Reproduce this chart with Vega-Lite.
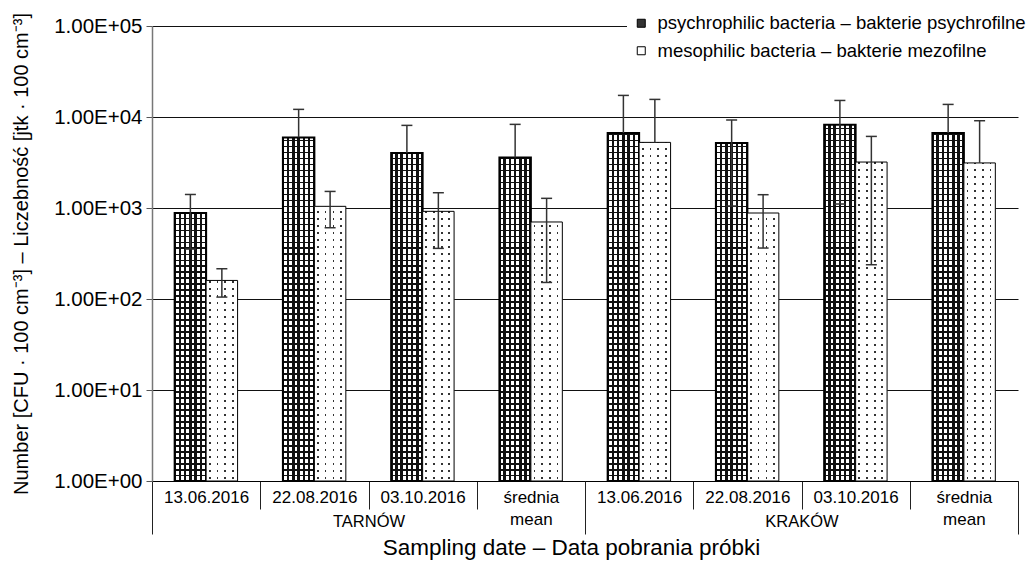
{
"$schema": "https://vega.github.io/schema/vega-lite/v6.json",
"width": 866, "height": 455,
"autosize": {"type": "none"},
"padding": {"left": 152, "top": 26, "right": 15, "bottom": 80},
"config": {"font": "Liberation Sans", "view": {"stroke": null}, "axis": {"labelColor": "#000", "titleColor": "#000", "titleFontWeight": "normal"}},
"params": [
{"name": "psyH", "expr": "[{offset:0,color:'#111'},{offset:.0033,color:'#111'},{offset:.0033,color:'#0000'},{offset:.0132,color:'#0000'},{offset:.0132,color:'#111'},{offset:.0165,color:'#111'},{offset:.0165,color:'#0000'},{offset:.0263,color:'#0000'},{offset:.0263,color:'#111'},{offset:.0296,color:'#111'},{offset:.0296,color:'#0000'},{offset:.0395,color:'#0000'},{offset:.0395,color:'#111'},{offset:.0428,color:'#111'},{offset:.0428,color:'#0000'},{offset:.0526,color:'#0000'},{offset:.0526,color:'#111'},{offset:.0559,color:'#111'},{offset:.0559,color:'#0000'},{offset:.0658,color:'#0000'},{offset:.0658,color:'#111'},{offset:.0691,color:'#111'},{offset:.0691,color:'#0000'},{offset:.0789,color:'#0000'},{offset:.0789,color:'#111'},{offset:.0822,color:'#111'},{offset:.0822,color:'#0000'},{offset:.0921,color:'#0000'},{offset:.0921,color:'#111'},{offset:.0954,color:'#111'},{offset:.0954,color:'#0000'},{offset:.1053,color:'#0000'},{offset:.1053,color:'#111'},{offset:.1086,color:'#111'},{offset:.1086,color:'#0000'},{offset:.1184,color:'#0000'},{offset:.1184,color:'#111'},{offset:.1217,color:'#111'},{offset:.1217,color:'#0000'},{offset:.1316,color:'#0000'},{offset:.1316,color:'#111'},{offset:.1349,color:'#111'},{offset:.1349,color:'#0000'},{offset:.1447,color:'#0000'},{offset:.1447,color:'#111'},{offset:.148,color:'#111'},{offset:.148,color:'#0000'},{offset:.1579,color:'#0000'},{offset:.1579,color:'#111'},{offset:.1612,color:'#111'},{offset:.1612,color:'#0000'},{offset:.1711,color:'#0000'},{offset:.1711,color:'#111'},{offset:.1744,color:'#111'},{offset:.1744,color:'#0000'},{offset:.1842,color:'#0000'},{offset:.1842,color:'#111'},{offset:.1875,color:'#111'},{offset:.1875,color:'#0000'},{offset:.1974,color:'#0000'},{offset:.1974,color:'#111'},{offset:.2007,color:'#111'},{offset:.2007,color:'#0000'},{offset:.2105,color:'#0000'},{offset:.2105,color:'#111'},{offset:.2138,color:'#111'},{offset:.2138,color:'#0000'},{offset:.2237,color:'#0000'},{offset:.2237,color:'#111'},{offset:.227,color:'#111'},{offset:.227,color:'#0000'},{offset:.2368,color:'#0000'},{offset:.2368,color:'#111'},{offset:.2401,color:'#111'},{offset:.2401,color:'#0000'},{offset:.25,color:'#0000'},{offset:.25,color:'#111'},{offset:.2533,color:'#111'},{offset:.2533,color:'#0000'},{offset:.2632,color:'#0000'},{offset:.2632,color:'#111'},{offset:.2665,color:'#111'},{offset:.2665,color:'#0000'},{offset:.2763,color:'#0000'},{offset:.2763,color:'#111'},{offset:.2796,color:'#111'},{offset:.2796,color:'#0000'},{offset:.2895,color:'#0000'},{offset:.2895,color:'#111'},{offset:.2928,color:'#111'},{offset:.2928,color:'#0000'},{offset:.3026,color:'#0000'},{offset:.3026,color:'#111'},{offset:.3059,color:'#111'},{offset:.3059,color:'#0000'},{offset:.3158,color:'#0000'},{offset:.3158,color:'#111'},{offset:.3191,color:'#111'},{offset:.3191,color:'#0000'},{offset:.3289,color:'#0000'},{offset:.3289,color:'#111'},{offset:.3322,color:'#111'},{offset:.3322,color:'#0000'},{offset:.3421,color:'#0000'},{offset:.3421,color:'#111'},{offset:.3454,color:'#111'},{offset:.3454,color:'#0000'},{offset:.3553,color:'#0000'},{offset:.3553,color:'#111'},{offset:.3586,color:'#111'},{offset:.3586,color:'#0000'},{offset:.3684,color:'#0000'},{offset:.3684,color:'#111'},{offset:.3717,color:'#111'},{offset:.3717,color:'#0000'},{offset:.3816,color:'#0000'},{offset:.3816,color:'#111'},{offset:.3849,color:'#111'},{offset:.3849,color:'#0000'},{offset:.3947,color:'#0000'},{offset:.3947,color:'#111'},{offset:.398,color:'#111'},{offset:.398,color:'#0000'},{offset:.4079,color:'#0000'},{offset:.4079,color:'#111'},{offset:.4112,color:'#111'},{offset:.4112,color:'#0000'},{offset:.4211,color:'#0000'},{offset:.4211,color:'#111'},{offset:.4244,color:'#111'},{offset:.4244,color:'#0000'},{offset:.4342,color:'#0000'},{offset:.4342,color:'#111'},{offset:.4375,color:'#111'},{offset:.4375,color:'#0000'},{offset:.4474,color:'#0000'},{offset:.4474,color:'#111'},{offset:.4507,color:'#111'},{offset:.4507,color:'#0000'},{offset:.4605,color:'#0000'},{offset:.4605,color:'#111'},{offset:.4638,color:'#111'},{offset:.4638,color:'#0000'},{offset:.4737,color:'#0000'},{offset:.4737,color:'#111'},{offset:.477,color:'#111'},{offset:.477,color:'#0000'},{offset:.4868,color:'#0000'},{offset:.4868,color:'#111'},{offset:.4901,color:'#111'},{offset:.4901,color:'#0000'},{offset:.5,color:'#0000'},{offset:.5,color:'#111'},{offset:.5033,color:'#111'},{offset:.5033,color:'#0000'},{offset:.5132,color:'#0000'},{offset:.5132,color:'#111'},{offset:.5165,color:'#111'},{offset:.5165,color:'#0000'},{offset:.5263,color:'#0000'},{offset:.5263,color:'#111'},{offset:.5296,color:'#111'},{offset:.5296,color:'#0000'},{offset:.5395,color:'#0000'},{offset:.5395,color:'#111'},{offset:.5428,color:'#111'},{offset:.5428,color:'#0000'},{offset:.5526,color:'#0000'},{offset:.5526,color:'#111'},{offset:.5559,color:'#111'},{offset:.5559,color:'#0000'},{offset:.5658,color:'#0000'},{offset:.5658,color:'#111'},{offset:.5691,color:'#111'},{offset:.5691,color:'#0000'},{offset:.5789,color:'#0000'},{offset:.5789,color:'#111'},{offset:.5822,color:'#111'},{offset:.5822,color:'#0000'},{offset:.5921,color:'#0000'},{offset:.5921,color:'#111'},{offset:.5954,color:'#111'},{offset:.5954,color:'#0000'},{offset:.6053,color:'#0000'},{offset:.6053,color:'#111'},{offset:.6086,color:'#111'},{offset:.6086,color:'#0000'},{offset:.6184,color:'#0000'},{offset:.6184,color:'#111'},{offset:.6217,color:'#111'},{offset:.6217,color:'#0000'},{offset:.6316,color:'#0000'},{offset:.6316,color:'#111'},{offset:.6349,color:'#111'},{offset:.6349,color:'#0000'},{offset:.6447,color:'#0000'},{offset:.6447,color:'#111'},{offset:.648,color:'#111'},{offset:.648,color:'#0000'},{offset:.6579,color:'#0000'},{offset:.6579,color:'#111'},{offset:.6612,color:'#111'},{offset:.6612,color:'#0000'},{offset:.6711,color:'#0000'},{offset:.6711,color:'#111'},{offset:.6744,color:'#111'},{offset:.6744,color:'#0000'},{offset:.6842,color:'#0000'},{offset:.6842,color:'#111'},{offset:.6875,color:'#111'},{offset:.6875,color:'#0000'},{offset:.6974,color:'#0000'},{offset:.6974,color:'#111'},{offset:.7007,color:'#111'},{offset:.7007,color:'#0000'},{offset:.7105,color:'#0000'},{offset:.7105,color:'#111'},{offset:.7138,color:'#111'},{offset:.7138,color:'#0000'},{offset:.7237,color:'#0000'},{offset:.7237,color:'#111'},{offset:.727,color:'#111'},{offset:.727,color:'#0000'},{offset:.7368,color:'#0000'},{offset:.7368,color:'#111'},{offset:.7401,color:'#111'},{offset:.7401,color:'#0000'},{offset:.75,color:'#0000'},{offset:.75,color:'#111'},{offset:.7533,color:'#111'},{offset:.7533,color:'#0000'},{offset:.7632,color:'#0000'},{offset:.7632,color:'#111'},{offset:.7665,color:'#111'},{offset:.7665,color:'#0000'},{offset:.7763,color:'#0000'},{offset:.7763,color:'#111'},{offset:.7796,color:'#111'},{offset:.7796,color:'#0000'},{offset:.7895,color:'#0000'},{offset:.7895,color:'#111'},{offset:.7928,color:'#111'},{offset:.7928,color:'#0000'},{offset:.8026,color:'#0000'},{offset:.8026,color:'#111'},{offset:.8059,color:'#111'},{offset:.8059,color:'#0000'},{offset:.8158,color:'#0000'},{offset:.8158,color:'#111'},{offset:.8191,color:'#111'},{offset:.8191,color:'#0000'},{offset:.8289,color:'#0000'},{offset:.8289,color:'#111'},{offset:.8322,color:'#111'},{offset:.8322,color:'#0000'},{offset:.8421,color:'#0000'},{offset:.8421,color:'#111'},{offset:.8454,color:'#111'},{offset:.8454,color:'#0000'},{offset:.8553,color:'#0000'},{offset:.8553,color:'#111'},{offset:.8586,color:'#111'},{offset:.8586,color:'#0000'},{offset:.8684,color:'#0000'},{offset:.8684,color:'#111'},{offset:.8717,color:'#111'},{offset:.8717,color:'#0000'},{offset:.8816,color:'#0000'},{offset:.8816,color:'#111'},{offset:.8849,color:'#111'},{offset:.8849,color:'#0000'},{offset:.8947,color:'#0000'},{offset:.8947,color:'#111'},{offset:.898,color:'#111'},{offset:.898,color:'#0000'},{offset:.9079,color:'#0000'},{offset:.9079,color:'#111'},{offset:.9112,color:'#111'},{offset:.9112,color:'#0000'},{offset:.9211,color:'#0000'},{offset:.9211,color:'#111'},{offset:.9244,color:'#111'},{offset:.9244,color:'#0000'},{offset:.9342,color:'#0000'},{offset:.9342,color:'#111'},{offset:.9375,color:'#111'},{offset:.9375,color:'#0000'},{offset:.9474,color:'#0000'},{offset:.9474,color:'#111'},{offset:.9507,color:'#111'},{offset:.9507,color:'#0000'},{offset:.9605,color:'#0000'},{offset:.9605,color:'#111'},{offset:.9638,color:'#111'},{offset:.9638,color:'#0000'},{offset:.9737,color:'#0000'},{offset:.9737,color:'#111'},{offset:.977,color:'#111'},{offset:.977,color:'#0000'},{offset:.9868,color:'#0000'},{offset:.9868,color:'#111'},{offset:.9901,color:'#111'},{offset:.9901,color:'#0000'},{offset:1,color:'#0000'}]"},
{"name": "mesH", "expr": "[{offset:0,color:'#fff'},{offset:.006,color:'#fff'},{offset:.006,color:'#0000'},{offset:.01,color:'#0000'},{offset:.01,color:'#fff'},{offset:.0214,color:'#fff'},{offset:.0214,color:'#0000'},{offset:.0254,color:'#0000'},{offset:.0254,color:'#fff'},{offset:.0368,color:'#fff'},{offset:.0368,color:'#0000'},{offset:.0408,color:'#0000'},{offset:.0408,color:'#fff'},{offset:.0522,color:'#fff'},{offset:.0522,color:'#0000'},{offset:.0562,color:'#0000'},{offset:.0562,color:'#fff'},{offset:.0675,color:'#fff'},{offset:.0675,color:'#0000'},{offset:.0715,color:'#0000'},{offset:.0715,color:'#fff'},{offset:.0829,color:'#fff'},{offset:.0829,color:'#0000'},{offset:.0869,color:'#0000'},{offset:.0869,color:'#fff'},{offset:.0983,color:'#fff'},{offset:.0983,color:'#0000'},{offset:.1023,color:'#0000'},{offset:.1023,color:'#fff'},{offset:.1137,color:'#fff'},{offset:.1137,color:'#0000'},{offset:.1177,color:'#0000'},{offset:.1177,color:'#fff'},{offset:.1291,color:'#fff'},{offset:.1291,color:'#0000'},{offset:.1331,color:'#0000'},{offset:.1331,color:'#fff'},{offset:.1445,color:'#fff'},{offset:.1445,color:'#0000'},{offset:.1485,color:'#0000'},{offset:.1485,color:'#fff'},{offset:.1598,color:'#fff'},{offset:.1598,color:'#0000'},{offset:.1638,color:'#0000'},{offset:.1638,color:'#fff'},{offset:.1752,color:'#fff'},{offset:.1752,color:'#0000'},{offset:.1792,color:'#0000'},{offset:.1792,color:'#fff'},{offset:.1906,color:'#fff'},{offset:.1906,color:'#0000'},{offset:.1946,color:'#0000'},{offset:.1946,color:'#fff'},{offset:.206,color:'#fff'},{offset:.206,color:'#0000'},{offset:.21,color:'#0000'},{offset:.21,color:'#fff'},{offset:.2214,color:'#fff'},{offset:.2214,color:'#0000'},{offset:.2254,color:'#0000'},{offset:.2254,color:'#fff'},{offset:.2368,color:'#fff'},{offset:.2368,color:'#0000'},{offset:.2408,color:'#0000'},{offset:.2408,color:'#fff'},{offset:.2522,color:'#fff'},{offset:.2522,color:'#0000'},{offset:.2562,color:'#0000'},{offset:.2562,color:'#fff'},{offset:.2675,color:'#fff'},{offset:.2675,color:'#0000'},{offset:.2715,color:'#0000'},{offset:.2715,color:'#fff'},{offset:.2829,color:'#fff'},{offset:.2829,color:'#0000'},{offset:.2869,color:'#0000'},{offset:.2869,color:'#fff'},{offset:.2983,color:'#fff'},{offset:.2983,color:'#0000'},{offset:.3023,color:'#0000'},{offset:.3023,color:'#fff'},{offset:.3137,color:'#fff'},{offset:.3137,color:'#0000'},{offset:.3177,color:'#0000'},{offset:.3177,color:'#fff'},{offset:.3291,color:'#fff'},{offset:.3291,color:'#0000'},{offset:.3331,color:'#0000'},{offset:.3331,color:'#fff'},{offset:.3445,color:'#fff'},{offset:.3445,color:'#0000'},{offset:.3485,color:'#0000'},{offset:.3485,color:'#fff'},{offset:.3598,color:'#fff'},{offset:.3598,color:'#0000'},{offset:.3638,color:'#0000'},{offset:.3638,color:'#fff'},{offset:.3752,color:'#fff'},{offset:.3752,color:'#0000'},{offset:.3792,color:'#0000'},{offset:.3792,color:'#fff'},{offset:.3906,color:'#fff'},{offset:.3906,color:'#0000'},{offset:.3946,color:'#0000'},{offset:.3946,color:'#fff'},{offset:.406,color:'#fff'},{offset:.406,color:'#0000'},{offset:.41,color:'#0000'},{offset:.41,color:'#fff'},{offset:.4214,color:'#fff'},{offset:.4214,color:'#0000'},{offset:.4254,color:'#0000'},{offset:.4254,color:'#fff'},{offset:.4368,color:'#fff'},{offset:.4368,color:'#0000'},{offset:.4408,color:'#0000'},{offset:.4408,color:'#fff'},{offset:.4522,color:'#fff'},{offset:.4522,color:'#0000'},{offset:.4562,color:'#0000'},{offset:.4562,color:'#fff'},{offset:.4675,color:'#fff'},{offset:.4675,color:'#0000'},{offset:.4715,color:'#0000'},{offset:.4715,color:'#fff'},{offset:.4829,color:'#fff'},{offset:.4829,color:'#0000'},{offset:.4869,color:'#0000'},{offset:.4869,color:'#fff'},{offset:.4983,color:'#fff'},{offset:.4983,color:'#0000'},{offset:.5023,color:'#0000'},{offset:.5023,color:'#fff'},{offset:.5137,color:'#fff'},{offset:.5137,color:'#0000'},{offset:.5177,color:'#0000'},{offset:.5177,color:'#fff'},{offset:.5291,color:'#fff'},{offset:.5291,color:'#0000'},{offset:.5331,color:'#0000'},{offset:.5331,color:'#fff'},{offset:.5445,color:'#fff'},{offset:.5445,color:'#0000'},{offset:.5485,color:'#0000'},{offset:.5485,color:'#fff'},{offset:.5598,color:'#fff'},{offset:.5598,color:'#0000'},{offset:.5638,color:'#0000'},{offset:.5638,color:'#fff'},{offset:.5752,color:'#fff'},{offset:.5752,color:'#0000'},{offset:.5792,color:'#0000'},{offset:.5792,color:'#fff'},{offset:.5906,color:'#fff'},{offset:.5906,color:'#0000'},{offset:.5946,color:'#0000'},{offset:.5946,color:'#fff'},{offset:.606,color:'#fff'},{offset:.606,color:'#0000'},{offset:.61,color:'#0000'},{offset:.61,color:'#fff'},{offset:.6214,color:'#fff'},{offset:.6214,color:'#0000'},{offset:.6254,color:'#0000'},{offset:.6254,color:'#fff'},{offset:.6368,color:'#fff'},{offset:.6368,color:'#0000'},{offset:.6408,color:'#0000'},{offset:.6408,color:'#fff'},{offset:.6522,color:'#fff'},{offset:.6522,color:'#0000'},{offset:.6562,color:'#0000'},{offset:.6562,color:'#fff'},{offset:.6675,color:'#fff'},{offset:.6675,color:'#0000'},{offset:.6715,color:'#0000'},{offset:.6715,color:'#fff'},{offset:.6829,color:'#fff'},{offset:.6829,color:'#0000'},{offset:.6869,color:'#0000'},{offset:.6869,color:'#fff'},{offset:.6983,color:'#fff'},{offset:.6983,color:'#0000'},{offset:.7023,color:'#0000'},{offset:.7023,color:'#fff'},{offset:.7137,color:'#fff'},{offset:.7137,color:'#0000'},{offset:.7177,color:'#0000'},{offset:.7177,color:'#fff'},{offset:.7291,color:'#fff'},{offset:.7291,color:'#0000'},{offset:.7331,color:'#0000'},{offset:.7331,color:'#fff'},{offset:.7445,color:'#fff'},{offset:.7445,color:'#0000'},{offset:.7485,color:'#0000'},{offset:.7485,color:'#fff'},{offset:.7598,color:'#fff'},{offset:.7598,color:'#0000'},{offset:.7638,color:'#0000'},{offset:.7638,color:'#fff'},{offset:.7752,color:'#fff'},{offset:.7752,color:'#0000'},{offset:.7792,color:'#0000'},{offset:.7792,color:'#fff'},{offset:.7906,color:'#fff'},{offset:.7906,color:'#0000'},{offset:.7946,color:'#0000'},{offset:.7946,color:'#fff'},{offset:.806,color:'#fff'},{offset:.806,color:'#0000'},{offset:.81,color:'#0000'},{offset:.81,color:'#fff'},{offset:.8214,color:'#fff'},{offset:.8214,color:'#0000'},{offset:.8254,color:'#0000'},{offset:.8254,color:'#fff'},{offset:.8368,color:'#fff'},{offset:.8368,color:'#0000'},{offset:.8408,color:'#0000'},{offset:.8408,color:'#fff'},{offset:.8522,color:'#fff'},{offset:.8522,color:'#0000'},{offset:.8562,color:'#0000'},{offset:.8562,color:'#fff'},{offset:.8675,color:'#fff'},{offset:.8675,color:'#0000'},{offset:.8715,color:'#0000'},{offset:.8715,color:'#fff'},{offset:.8829,color:'#fff'},{offset:.8829,color:'#0000'},{offset:.8869,color:'#0000'},{offset:.8869,color:'#fff'},{offset:.8983,color:'#fff'},{offset:.8983,color:'#0000'},{offset:.9023,color:'#0000'},{offset:.9023,color:'#fff'},{offset:.9137,color:'#fff'},{offset:.9137,color:'#0000'},{offset:.9177,color:'#0000'},{offset:.9177,color:'#fff'},{offset:.9291,color:'#fff'},{offset:.9291,color:'#0000'},{offset:.9331,color:'#0000'},{offset:.9331,color:'#fff'},{offset:.9445,color:'#fff'},{offset:.9445,color:'#0000'},{offset:.9485,color:'#0000'},{offset:.9485,color:'#fff'},{offset:.9598,color:'#fff'},{offset:.9598,color:'#0000'},{offset:.9638,color:'#0000'},{offset:.9638,color:'#fff'},{offset:.9752,color:'#fff'},{offset:.9752,color:'#0000'},{offset:.9792,color:'#0000'},{offset:.9792,color:'#fff'},{offset:.9906,color:'#fff'},{offset:.9906,color:'#0000'},{offset:.9946,color:'#0000'},{offset:.9946,color:'#fff'},{offset:1,color:'#fff'}]"}
],
"layer": [
{
"data": {"values": [
{"site": "TARNÓW", "date": "13.06.2016", "cat": "T 13.06.2016", "series": "psychrophilic bacteria – bakterie psychrofilne", "value": 881, "hi": 1408, "lo": 354},
{"site": "TARNÓW", "date": "13.06.2016", "cat": "T 13.06.2016", "series": "mesophilic bacteria – bakterie mezofilne", "value": 160, "hi": 215, "lo": 105},
{"site": "TARNÓW", "date": "22.08.2016", "cat": "T 22.08.2016", "series": "psychrophilic bacteria – bakterie psychrofilne", "value": 5970, "hi": 12130, "lo": null},
{"site": "TARNÓW", "date": "22.08.2016", "cat": "T 22.08.2016", "series": "mesophilic bacteria – bakterie mezofilne", "value": 1043, "hi": 1521, "lo": 607},
{"site": "TARNÓW", "date": "03.10.2016", "cat": "T 03.10.2016", "series": "psychrophilic bacteria – bakterie psychrofilne", "value": 4020, "hi": 8090, "lo": null},
{"site": "TARNÓW", "date": "03.10.2016", "cat": "T 03.10.2016", "series": "mesophilic bacteria – bakterie mezofilne", "value": 919, "hi": 1472, "lo": 360},
{"site": "TARNÓW", "date": "średnia", "cat": "T średnia", "series": "psychrophilic bacteria – bakterie psychrofilne", "value": 3598, "hi": 8300, "lo": null},
{"site": "TARNÓW", "date": "średnia", "cat": "T średnia", "series": "mesophilic bacteria – bakterie mezofilne", "value": 702, "hi": 1277, "lo": 152},
{"site": "KRAKÓW", "date": "13.06.2016", "cat": "K 13.06.2016", "series": "psychrophilic bacteria – bakterie psychrofilne", "value": 6670, "hi": 17270, "lo": null},
{"site": "KRAKÓW", "date": "13.06.2016", "cat": "K 13.06.2016", "series": "mesophilic bacteria – bakterie mezofilne", "value": 5262, "hi": 15610, "lo": null},
{"site": "KRAKÓW", "date": "22.08.2016", "cat": "K 22.08.2016", "series": "psychrophilic bacteria – bakterie psychrofilne", "value": 5180, "hi": 9270, "lo": 1052},
{"site": "KRAKÓW", "date": "22.08.2016", "cat": "K 22.08.2016", "series": "mesophilic bacteria – bakterie mezofilne", "value": 881, "hi": 1400, "lo": 363},
{"site": "KRAKÓW", "date": "03.10.2016", "cat": "K 03.10.2016", "series": "psychrophilic bacteria – bakterie psychrofilne", "value": 8230, "hi": 15200, "lo": 1106},
{"site": "KRAKÓW", "date": "03.10.2016", "cat": "K 03.10.2016", "series": "mesophilic bacteria – bakterie mezofilne", "value": 3200, "hi": 6120, "lo": 238},
{"site": "KRAKÓW", "date": "średnia", "cat": "K średnia", "series": "psychrophilic bacteria – bakterie psychrofilne", "value": 6670, "hi": 13750, "lo": null},
{"site": "KRAKÓW", "date": "średnia", "cat": "K średnia", "series": "mesophilic bacteria – bakterie mezofilne", "value": 3128, "hi": 9100, "lo": null}
]},
"encoding": {
"x": {"field": "cat", "type": "nominal", "sort": ["T 13.06.2016", "T 22.08.2016", "T 03.10.2016", "T średnia", "K 13.06.2016", "K 22.08.2016", "K 03.10.2016", "K średnia"], "scale": {"paddingInner": 0, "paddingOuter": 0},
 "axis": {"title": null, "orient": "bottom", "labelAngle": 0, "tickBand": "extent", "tickSize": 28, "tickColor": "#222", "domainColor": "#000", "domainWidth": 1, "labelFontSize": 17, "labelPadding": -20, "labelLineHeight": 22.5, "labelOverlap": false, "labelExpr": "slice(datum.label, 2) == 'średnia' ? ['średnia', 'mean'] : slice(datum.label, 2)"}},
"xOffset": {"field": "series", "type": "nominal", "sort": ["psychrophilic bacteria – bakterie psychrofilne", "mesophilic bacteria – bakterie mezofilne"], "scale": {"paddingInner": 0, "paddingOuter": 0.72}},
"y": {"field": "value", "type": "quantitative", "scale": {"type": "log", "domain": [1, 100000], "nice": false},
 "axis": {"title": "Number [CFU · 100 cm⁻³] – Liczebność [jtk · 100 cm⁻³]", "titleFontSize": 20, "titlePadding": 22, "values": [1, 10, 100, 1000, 10000, 100000], "labelExpr": "'1.00E+0' + round(log(datum.value) / LN10)", "labelFontSize": 20.5, "labelPadding": 4, "tickSize": 6, "tickColor": "#555", "domainColor": "#777", "domainWidth": 1.5, "grid": true, "gridColor": "#111", "gridWidth": 1}}
},
"layer": [
{"mark": {"type": "bar"},
 "encoding": {"y2": {"datum": 1}, "fill": {"field": "series", "type": "nominal", "scale": {"domain": ["psychrophilic bacteria – bakterie psychrofilne", "mesophilic bacteria – bakterie mezofilne"], "range": ["#333", "#fff"]},
  "legend": {"title": null, "orient": "none", "legendX": 475, "legendY": -17, "direction": "vertical", "symbolType": "square", "symbolSize": 64, "symbolStrokeColor": "#000", "symbolStrokeWidth": 1, "labelFontSize": 18.5, "labelOffset": 7, "labelLimit": 600, "rowPadding": 8.5, "padding": 5, "fillColor": "#fff"}}}},
{"transform": [{"filter": "test(/^psych/, datum.series)"}],
 "mark": {"type": "bar", "fill": {"gradient": "linear", "x1": 0, "y1": 0, "x2": 1, "y2": 0, "stops": [{"offset": 0, "color": "#111"}, {"offset": 0.05, "color": "#111"}, {"offset": 0.05, "color": "#fff"}, {"offset": 0.129, "color": "#fff"}, {"offset": 0.129, "color": "#111"}, {"offset": 0.204, "color": "#111"}, {"offset": 0.204, "color": "#fff"}, {"offset": 0.296, "color": "#fff"}, {"offset": 0.296, "color": "#111"}, {"offset": 0.371, "color": "#111"}, {"offset": 0.371, "color": "#fff"}, {"offset": 0.4625, "color": "#fff"}, {"offset": 0.4625, "color": "#111"}, {"offset": 0.5375, "color": "#111"}, {"offset": 0.5375, "color": "#fff"}, {"offset": 0.629, "color": "#fff"}, {"offset": 0.629, "color": "#111"}, {"offset": 0.704, "color": "#111"}, {"offset": 0.704, "color": "#fff"}, {"offset": 0.796, "color": "#fff"}, {"offset": 0.796, "color": "#111"}, {"offset": 0.871, "color": "#111"}, {"offset": 0.871, "color": "#fff"}, {"offset": 0.95, "color": "#fff"}, {"offset": 0.95, "color": "#111"}, {"offset": 1, "color": "#111"}]}},
 "encoding": {"y2": {"datum": 1}}},
{"transform": [{"filter": "test(/^psych/, datum.series)"}],
 "mark": {"type": "bar", "fill": {"expr": "{gradient: 'linear', x1: 1, x2: 1, y1: 1 - 5 * LN10 / log(datum.value), y2: 1, stops: psyH}"}, "stroke": "#000", "strokeWidth": 2},
 "encoding": {"y2": {"datum": 1}}},
{"transform": [{"filter": "test(/^meso/, datum.series)"}],
 "mark": {"type": "bar", "fill": {"gradient": "linear", "x1": 0, "y1": 0, "x2": 1, "y2": 0, "stops": [{"offset": 0, "color": "#fff"}, {"offset": 0.09, "color": "#fff"}, {"offset": 0.09, "color": "#333"}, {"offset": 0.145, "color": "#333"}, {"offset": 0.145, "color": "#fff"}, {"offset": 0.33, "color": "#fff"}, {"offset": 0.33, "color": "#333"}, {"offset": 0.385, "color": "#333"}, {"offset": 0.385, "color": "#fff"}, {"offset": 0.58, "color": "#fff"}, {"offset": 0.58, "color": "#333"}, {"offset": 0.635, "color": "#333"}, {"offset": 0.635, "color": "#fff"}, {"offset": 0.82, "color": "#fff"}, {"offset": 0.82, "color": "#333"}, {"offset": 0.875, "color": "#333"}, {"offset": 0.875, "color": "#fff"}, {"offset": 1, "color": "#fff"}]}},
 "encoding": {"y2": {"datum": 1}}},
{"transform": [{"filter": "test(/^meso/, datum.series)"}],
 "mark": {"type": "bar", "fill": {"expr": "{gradient: 'linear', x1: 1, x2: 1, y1: 1 - 5 * LN10 / log(datum.value), y2: 1, stops: mesH}"}, "stroke": "#000", "strokeWidth": 1},
 "encoding": {"y2": {"datum": 1}}},
{"mark": {"type": "rule", "color": "#333", "strokeWidth": 1.5},
 "encoding": {"y": {"field": "value", "type": "quantitative"}, "y2": {"field": "hi"}}},
{"transform": [{"filter": "datum.lo != null"}],
 "mark": {"type": "rule", "color": "#333", "strokeWidth": 1.5},
 "encoding": {"y": {"field": "lo", "type": "quantitative"}, "y2": {"field": "value"}}},
{"mark": {"type": "tick", "orient": "horizontal", "size": 11, "thickness": 1.5, "color": "#333", "opacity": 1},
 "encoding": {"y": {"field": "hi", "type": "quantitative"}}},
{"transform": [{"filter": "datum.lo != null"}],
 "mark": {"type": "tick", "orient": "horizontal", "size": 11, "thickness": 1.5, "color": "#333", "opacity": 1},
 "encoding": {"y": {"field": "lo", "type": "quantitative"}}}
]
},
{
"data": {"values": [{"site": "TARNÓW"}, {"site": "KRAKÓW"}]},
"mark": {"type": "point", "opacity": 0},
"encoding": {"x": {"field": "site", "type": "nominal", "sort": ["TARNÓW", "KRAKÓW"], "scale": {"paddingInner": 0, "paddingOuter": 0},
 "axis": {"orient": "bottom", "title": "Sampling date – Data pobrania próbki", "titleFontSize": 22.5, "titlePadding": 2, "titleX": 419, "labelAngle": 0, "tickBand": "extent", "tickSize": 53, "tickColor": "#222", "domain": false, "labelFontSize": 16.5, "labelPadding": -20.5, "labelOverlap": false}}}
}
],
"resolve": {"scale": {"x": "independent"}}
}
